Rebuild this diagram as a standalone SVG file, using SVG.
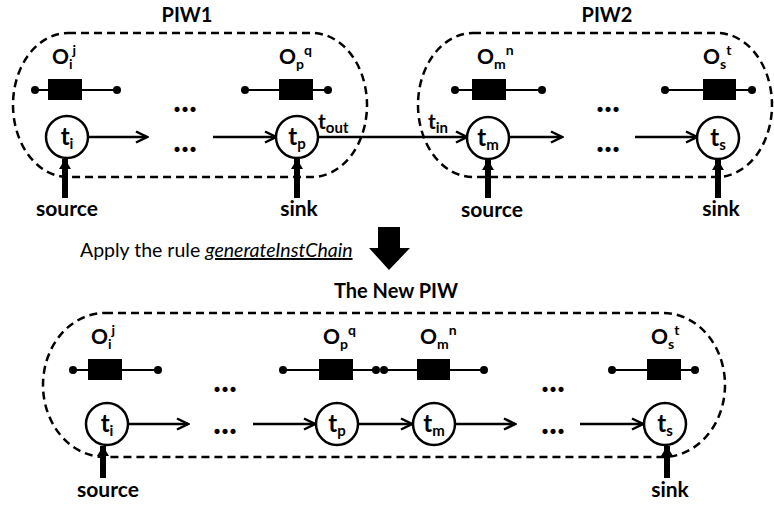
<svg xmlns="http://www.w3.org/2000/svg" width="774" height="505" viewBox="0 0 774 505">
<defs>
<style>
text{font-family:Lato,"Open Sans","Liberation Sans",sans-serif;fill:#000}
.title{font-size:20px;font-weight:bold}
.lbl{font-size:21px;font-weight:bold}
.sm{font-size:14px}
.tt{font-size:24px;font-weight:bold}
.ts{font-size:15px}
.io{font-size:21px;font-weight:bold}
.dots{font-size:34px;font-weight:bold}
.bound{fill:none;stroke:#000;stroke-width:2.5;stroke-dasharray:8 5}
.node circle{fill:#fff;stroke:#000;stroke-width:2.5}
.res line{stroke:#000;stroke-width:2}
.res circle{fill:#000}
.res rect{fill:#000}
.flow{stroke:#000;stroke-width:2.5;fill:none;marker-end:url(#chev)}
.thick{stroke:#000;stroke-width:6;marker-end:url(#tri)}
</style>
<marker id="chev" viewBox="0 0 14 14" refX="12.5" refY="7" markerWidth="14" markerHeight="14" markerUnits="userSpaceOnUse" orient="auto"><path d="M1.5,1.5 L12.5,7 L1.5,12.5" fill="none" stroke="#000" stroke-width="2.5"/></marker>
<marker id="tri" viewBox="0 0 10 12" refX="10" refY="6" markerWidth="10" markerHeight="12" markerUnits="userSpaceOnUse" orient="auto"><path d="M0,0 L10,6 L0,12 z" fill="#000"/></marker>
</defs>
<rect width="774" height="505" fill="#fff"/>

<!-- boundaries -->
<g id="PIW1">
<rect class="bound" x="13" y="33" width="354" height="144" rx="55" ry="72"/>
<text class="title" x="187" y="22" text-anchor="middle">PIW1</text>
</g>
<g id="PIW2">
<rect class="bound" x="418" y="33" width="354" height="144" rx="55" ry="72"/>
<text class="title" x="607" y="22" text-anchor="middle">PIW2</text>
</g>
<g id="NewPIW">
<rect class="bound" x="43" y="313" width="682" height="144" rx="62" ry="72"/>
<text class="title" x="396" y="298" text-anchor="middle">The New PIW</text>
</g>

<!-- connectors -->
<g id="connectors">
<line class="flow" x1="88" y1="137" x2="147" y2="137"/>
<line class="flow" x1="213" y1="137" x2="276" y2="137"/>
<line class="flow" x1="318" y1="137" x2="467" y2="137"/>
<line class="flow" x1="509" y1="137" x2="562" y2="137"/>
<line class="flow" x1="635" y1="137" x2="697" y2="137"/>
<line class="flow" x1="128" y1="424" x2="188" y2="424"/>
<line class="flow" x1="253" y1="424" x2="315" y2="424"/>
<line class="flow" x1="358" y1="424" x2="412" y2="424"/>
<line class="flow" x1="455" y1="424" x2="515" y2="424"/>
<line class="flow" x1="580" y1="424" x2="643" y2="424"/>
<line class="thick" x1="65" y1="198" x2="65" y2="159"/>
<line class="thick" x1="297" y1="198" x2="297" y2="159"/>
<line class="thick" x1="488" y1="198" x2="488" y2="160"/>
<line class="thick" x1="718" y1="198" x2="718" y2="160"/>
<line class="thick" x1="103" y1="478" x2="103" y2="446"/>
<line class="thick" x1="667" y1="478" x2="667" y2="446"/>
<text class="io" x="318" y="129">t<tspan class="ts" dy="4">out</tspan></text>
<text class="io" x="428" y="129">t<tspan class="ts" dy="4">in</tspan></text>
</g>

<!-- top PIW1 nodes -->
<g id="res-Oij-1" class="res">
<line x1="35" y1="90" x2="117" y2="90"/><circle cx="35" cy="90" r="4"/><circle cx="117" cy="90" r="4"/>
<rect x="48" y="79" width="34" height="21"/>
<text class="lbl" x="52" y="64">O<tspan class="sm" dy="5">i</tspan><tspan class="sm" dy="-14">j</tspan></text>
</g>
<g id="res-Opq-1" class="res">
<line x1="245" y1="90" x2="328" y2="90"/><circle cx="245" cy="90" r="4"/><circle cx="328" cy="90" r="4"/>
<rect x="279" y="79" width="34" height="21"/>
<text class="lbl" x="279" y="64">O<tspan class="sm" dy="5">p</tspan><tspan class="sm" dy="-14">q</tspan></text>
</g>
<g id="ti-1" class="node"><circle cx="67" cy="137" r="21"/><text class="tt" x="67" y="145" text-anchor="middle">t<tspan class="ts" dy="4">i</tspan></text></g>
<g id="tp-1" class="node"><circle cx="297" cy="137" r="21"/><text class="tt" x="297" y="145" text-anchor="middle">t<tspan class="ts" dy="4">p</tspan></text></g>
<g id="dots-1"><text class="dots" x="185" y="112" text-anchor="middle">...</text><text class="dots" x="185" y="152" text-anchor="middle">...</text></g>
<g id="src-1"><text class="io" x="67" y="216" text-anchor="middle">source</text></g>
<g id="sink-1"><text class="io" x="299" y="216" text-anchor="middle">sink</text></g>

<!-- top PIW2 nodes -->
<g id="res-Omn-2" class="res">
<line x1="455" y1="90" x2="542" y2="90"/><circle cx="455" cy="90" r="4"/><circle cx="542" cy="90" r="4"/>
<rect x="472" y="79" width="34" height="21"/>
<text class="lbl" x="477" y="64">O<tspan class="sm" dy="5">m</tspan><tspan class="sm" dy="-14">n</tspan></text>
</g>
<g id="res-Ost-2" class="res">
<line x1="665" y1="90" x2="752" y2="90"/><circle cx="665" cy="90" r="4"/><circle cx="752" cy="90" r="4"/>
<rect x="703" y="79" width="33" height="21"/>
<text class="lbl" x="703" y="64">O<tspan class="sm" dy="5">s</tspan><tspan class="sm" dy="-14">t</tspan></text>
</g>
<g id="tm-2" class="node"><circle cx="488" cy="138" r="21"/><text class="tt" x="488" y="146" text-anchor="middle">t<tspan class="ts" dy="4">m</tspan></text></g>
<g id="ts-2" class="node"><circle cx="718" cy="138" r="21"/><text class="tt" x="718" y="146" text-anchor="middle">t<tspan class="ts" dy="4">s</tspan></text></g>
<g id="dots-2"><text class="dots" x="608" y="112" text-anchor="middle">...</text><text class="dots" x="608" y="152" text-anchor="middle">...</text></g>
<g id="src-2"><text class="io" x="492" y="217" text-anchor="middle">source</text></g>
<g id="sink-2"><text class="io" x="721" y="216" text-anchor="middle">sink</text></g>

<!-- rule -->
<g id="rule">
<text x="80" y="257" style="font-size:19.5px">Apply the rule <tspan font-style="italic" text-decoration="underline">generateInstChain</tspan></text>
<polygon points="378,227 400,227 400,248 410,248 389,270 369,248 378,248" fill="#000"/>
</g>

<!-- bottom nodes -->
<g id="res-Oij-3" class="res">
<line x1="73" y1="370" x2="158" y2="370"/><circle cx="73" cy="370" r="4"/><circle cx="158" cy="370" r="4"/>
<rect x="88" y="359" width="34" height="21"/>
<text class="lbl" x="91" y="344">O<tspan class="sm" dy="5">i</tspan><tspan class="sm" dy="-14">j</tspan></text>
</g>
<g id="res-Opq-3" class="res">
<line x1="283" y1="370" x2="376" y2="370"/><circle cx="283" cy="370" r="4"/><circle cx="376" cy="370" r="4"/>
<rect x="319" y="359" width="34" height="21"/>
<text class="lbl" x="323" y="344">O<tspan class="sm" dy="5">p</tspan><tspan class="sm" dy="-14">q</tspan></text>
</g>
<g id="res-Omn-3" class="res">
<line x1="384" y1="370" x2="484" y2="370"/><circle cx="384" cy="370" r="4"/><circle cx="484" cy="370" r="4"/>
<rect x="417" y="359" width="33" height="21"/>
<text class="lbl" x="420" y="344">O<tspan class="sm" dy="5">m</tspan><tspan class="sm" dy="-14">n</tspan></text>
</g>
<g id="res-Ost-3" class="res">
<line x1="612" y1="370" x2="695" y2="370"/><circle cx="612" cy="370" r="4"/><circle cx="695" cy="370" r="4"/>
<rect x="647" y="359" width="34" height="21"/>
<text class="lbl" x="651" y="344">O<tspan class="sm" dy="5">s</tspan><tspan class="sm" dy="-14">t</tspan></text>
</g>
<g id="ti-3" class="node"><circle cx="107" cy="424" r="21"/><text class="tt" x="107" y="432" text-anchor="middle">t<tspan class="ts" dy="4">i</tspan></text></g>
<g id="tp-3" class="node"><circle cx="337" cy="424" r="21"/><text class="tt" x="337" y="432" text-anchor="middle">t<tspan class="ts" dy="4">p</tspan></text></g>
<g id="tm-3" class="node"><circle cx="434" cy="424" r="21"/><text class="tt" x="434" y="432" text-anchor="middle">t<tspan class="ts" dy="4">m</tspan></text></g>
<g id="ts-3" class="node"><circle cx="665" cy="424" r="21"/><text class="tt" x="665" y="432" text-anchor="middle">t<tspan class="ts" dy="4">s</tspan></text></g>
<g id="dots-3a"><text class="dots" x="225" y="392" text-anchor="middle">...</text><text class="dots" x="225" y="434" text-anchor="middle">...</text></g>
<g id="dots-3b"><text class="dots" x="553" y="392" text-anchor="middle">...</text><text class="dots" x="553" y="434" text-anchor="middle">...</text></g>
<g id="src-3"><text class="io" x="108" y="497" text-anchor="middle">source</text></g>
<g id="sink-3"><text class="io" x="670" y="497" text-anchor="middle">sink</text></g>
</svg>
